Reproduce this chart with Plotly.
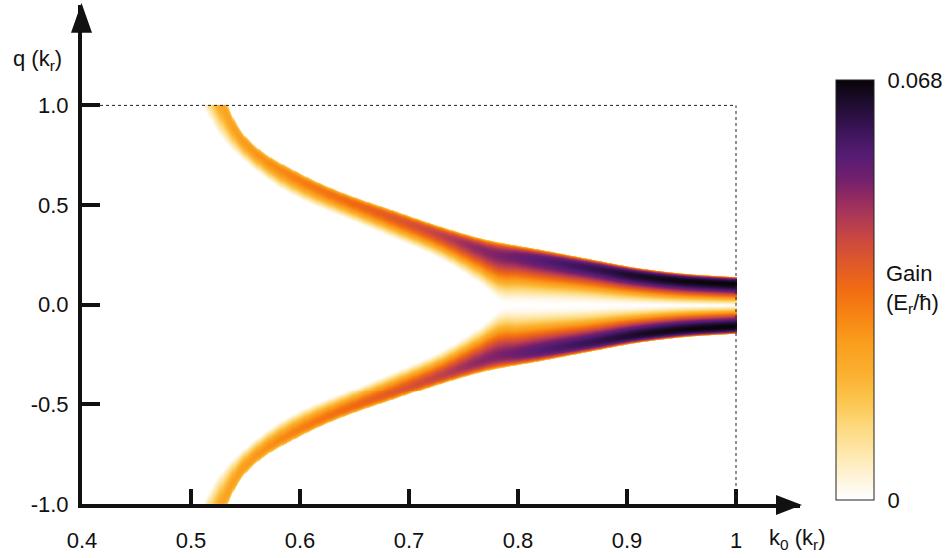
import numpy as np
import plotly.graph_objects as go

# ---------------- data ----------------
# Upper gain band (the lower band is its mirror image in q).
# Outer (large |q|) edge of the band
outer_k0 = [0.500, 0.511, 0.520, 0.5335, 0.5407, 0.5514, 0.5697, 0.591, 0.614,
            0.637, 0.660, 0.683, 0.706, 0.729, 0.765, 0.7745, 0.820, 0.866,
            0.912, 0.958, 1.000]
outer_q = [1.55, 1.27, 1.16, 1.00, 0.915, 0.835, 0.752, 0.686, 0.622,
           0.568, 0.522, 0.480, 0.436, 0.394, 0.337, 0.325, 0.280, 0.232,
           0.186, 0.157, 0.143]
# Inner (small |q|) edge of the band (where the gain vanishes)
inner_k0 = [0.500, 0.5114, 0.5193, 0.530, 0.5453, 0.5636, 0.5847, 0.610, 0.637,
            0.683, 0.729, 0.765, 0.792, 1.000]
inner_q = [1.20, 0.995, 0.905, 0.82, 0.737, 0.655, 0.575, 0.505, 0.445,
           0.340, 0.228, 0.105, 0.000, 0.000]
# Peak gain along the band (E_r / hbar)
gain_k0 = [0.50, 0.52, 0.55, 0.60, 0.65, 0.70, 0.73, 0.76, 0.79, 0.82, 0.87,
           0.91, 0.95, 1.00]
peak_gain = [0.022, 0.023, 0.026, 0.031, 0.035, 0.040, 0.044, 0.049, 0.052,
             0.056, 0.061, 0.065, 0.067, 0.068]
# Skew of the gain profile across the band (position of the maximum)
skew_k0 = [0.50, 0.77, 0.80, 0.85, 0.90, 0.95, 1.00]
skew_exp = [1.0, 1.3, 1.8, 1.8, 1.6, 1.35, 1.2]

gain_max = 0.068
x_ticks = [0.4, 0.5, 0.6, 0.7, 0.8, 0.9, 1.0]
x_ticktext = ["0.4", "0.5", "0.6", "0.7", "0.8", "0.9", "1"]
y_ticks = [-1.0, -0.5, 0.0, 0.5, 1.0]
y_ticktext = ["-1.0", "-0.5", "0.0", "0.5", "1.0"]
cbar_ticks = [0, 0.068]
cbar_ticktext = ["0", "0.068"]


def pchip(xs, xp, yp):
    """Monotone cubic (Fritsch-Carlson) curve through the read points."""
    xp = np.asarray(xp, float)
    yp = np.asarray(yp, float)
    h = np.diff(xp)
    d = np.diff(yp) / h
    m = np.zeros_like(yp)
    m[0], m[-1] = d[0], d[-1]
    for i in range(1, len(xp) - 1):
        if d[i - 1] * d[i] <= 0:
            m[i] = 0.0
        else:
            w1 = 2 * h[i] + h[i - 1]
            w2 = h[i] + 2 * h[i - 1]
            m[i] = (w1 + w2) / (w1 / d[i - 1] + w2 / d[i])
    xs = np.clip(np.asarray(xs, float), xp[0], xp[-1])
    idx = np.clip(np.searchsorted(xp, xs) - 1, 0, len(xp) - 2)
    hh = h[idx]
    s = (xs - xp[idx]) / hh
    h00 = 2 * s ** 3 - 3 * s ** 2 + 1
    h10 = s ** 3 - 2 * s ** 2 + s
    h01 = -2 * s ** 3 + 3 * s ** 2
    h11 = s ** 3 - s ** 2
    return (h00 * yp[idx] + h10 * hh * m[idx] + h01 * yp[idx + 1]
            + h11 * hh * m[idx + 1])


# ---------------- build the gain map ----------------
k0 = np.linspace(0.4, 1.0, 601)
q = np.linspace(-1.0, 1.0, 401)
qo = pchip(k0, outer_k0, outer_q)
qi = np.maximum(pchip(k0, inner_k0, inner_q), 0.0)
G = pchip(k0, gain_k0, peak_gain)
A = pchip(k0, skew_k0, skew_exp)
K, Q = np.meshgrid(k0, q)
aq = np.abs(Q)
t = (aq - qi[None, :]) / (qo - qi)[None, :]
inside = (t >= 0) & (t <= 1)
tc = np.clip(t, 0, 1)
a = A[None, :]
tpk = np.sqrt(a / (1 + a))
norm = tpk ** a * np.sqrt(1 - tpk ** 2)
prof = tc ** a * np.sqrt(1 - tc ** 2) / norm
Z = np.where(inside, prof * G[None, :], 0.0)
Z = np.where(K < 0.5, 0.0, Z).astype(np.float32)

colorscale = [
    [0.00, "#ffffff"], [0.04, "#fff7e4"], [0.10, "#feeab4"], [0.17, "#fdda80"],
    [0.24, "#fcc44c"], [0.30, "#fbb030"], [0.38, "#fa9c1c"], [0.44, "#f88414"],
    [0.50, "#f26c12"], [0.56, "#e05a28"], [0.62, "#cc4840"], [0.67, "#b03a54"],
    [0.72, "#922a62"], [0.76, "#74206c"], [0.82, "#561c74"], [0.88, "#3c1458"],
    [0.95, "#1c0c2c"], [1.00, "#080408"],
]

# ---------------- geometry (pixels) ----------------
W, H = 948, 558
PL, PR, PT, PB = 82, 800, 5, 507
pw, ph = PR - PL, PB - PT
x_hi = 0.4 + 0.6 * pw / (736 - PL)
y_hi = -1 + 2 * ph / (PB - 106)


def px(xp):
    return (xp - PL) / pw


def py(yp):
    return (PB - yp) / ph


FONT = "Liberation Sans, Arial, sans-serif"
TXT = "#111111"

fig = go.Figure()
fig.add_trace(go.Heatmap(
    x=k0, y=q, z=Z, zmin=0, zmax=gain_max, colorscale=colorscale,
    zsmooth="best", hoverinfo="skip",
    colorbar=dict(
        thickness=38, thicknessmode="pixels", len=420, lenmode="pixels",
        x=px(836), xref="paper", xanchor="left",
        y=py(292), yref="paper", yanchor="middle",
        xpad=0, ypad=0, outlinewidth=1, outlinecolor="#222222",
        tickvals=cbar_ticks, ticktext=cbar_ticktext,
        ticks="outside", ticklen=9, tickcolor="rgba(0,0,0,0)",
        tickfont=dict(size=22, color=TXT, family=FONT),
    ),
))

fig.update_layout(
    width=W, height=H, autosize=False,
    margin=dict(l=PL, r=W - PR, t=PT, b=H - PB, pad=0),
    paper_bgcolor="white", plot_bgcolor="white",
    font=dict(family=FONT, size=22, color=TXT),
    showlegend=False,
    xaxis=dict(range=[0.4, x_hi], showline=True, linewidth=4, linecolor=TXT,
               ticks="inside", ticklen=15, tickwidth=4, tickcolor=TXT,
               tickvals=x_ticks, ticktext=x_ticktext, ticklabelstandoff=14,
               showgrid=False, zeroline=False, fixedrange=True),
    yaxis=dict(range=[-1, y_hi], showline=True, linewidth=4, linecolor=TXT,
               ticks="inside", ticklen=18, tickwidth=4, tickcolor=TXT,
               tickvals=y_ticks, ticktext=y_ticktext, ticklabelstandoff=5,
               showgrid=False, zeroline=False, fixedrange=True),
)

# dotted frame at q = 1 and k0 = 1
fig.add_shape(type="line", xref="x", yref="y", x0=0.4 + 0.6 * (100 - PL) / (736 - PL),
              x1=1.0, y0=1.0, y1=1.0, line=dict(color="#222222", width=1, dash="dot"))
fig.add_shape(type="line", xref="x", yref="y", x0=1.0, x1=1.0, y0=-1.0, y1=1.0,
              line=dict(color="#222222", width=1, dash="dot"))

# arrow heads
fig.add_shape(type="path", xref="paper", yref="paper",
              path=f"M {px(81.5)} {py(3)} L {px(71)} {py(33)} L {px(92)} {py(33)} Z",
              fillcolor=TXT, line=dict(width=0), layer="above")
fig.add_shape(type="path", xref="paper", yref="paper",
              path=f"M {px(802)} {py(508)} L {px(776)} {py(498)} L {px(776)} {py(518)} Z",
              fillcolor=TXT, line=dict(width=0), layer="above")

# axis titles and colorbar title
fig.add_annotation(xref="paper", yref="paper", x=px(37), y=py(60), xanchor="center",
                   yanchor="middle", text="q (k<sub>r</sub>)",
                   showarrow=False, font=dict(size=22, color=TXT, family=FONT))
fig.add_annotation(xref="paper", yref="paper", x=px(797), y=py(542), xanchor="center",
                   yanchor="middle", text="k<sub>0</sub> (k<sub>r</sub>)",
                   showarrow=False, font=dict(size=22, color=TXT, family=FONT))
fig.add_annotation(xref="paper", yref="paper", x=px(884), y=py(291), xanchor="left",
                   yanchor="middle", align="left", text="Gain<br>(E<sub>r</sub>/ħ)",
                   showarrow=False, font=dict(size=22, color=TXT, family=FONT))

fig.write_html("out.html", config={"displayModeBar": False},
               post_script="document.body.style.margin='0';")
